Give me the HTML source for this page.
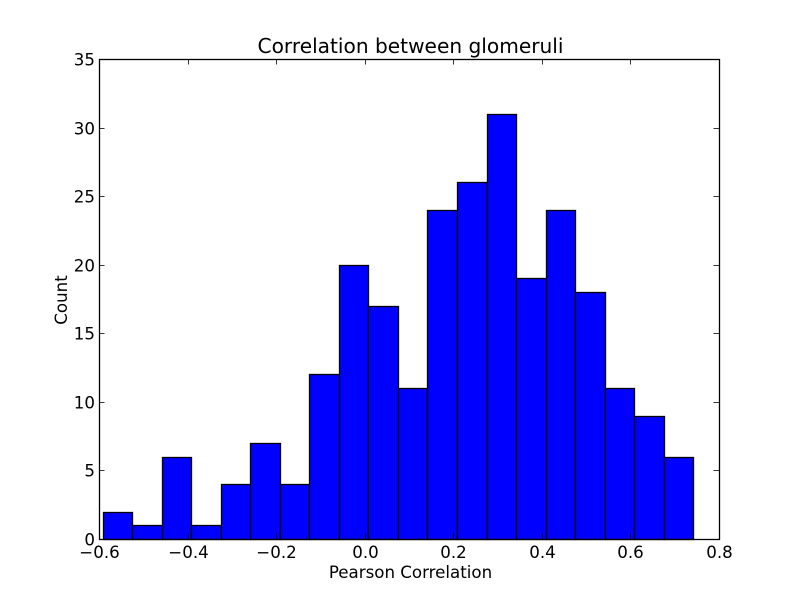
<!DOCTYPE html>
<html>
<head>
<meta charset="utf-8">
<title>Correlation between glomeruli</title>
<style>
html,body{margin:0;padding:0;background:#fff;}
svg{display:block;}
text{font-family:"DejaVu Sans","Liberation Sans",sans-serif;fill:#000;}
</style>
</head>
<body>
<svg id="chart" width="800" height="600" viewBox="0 0 800 600" xmlns="http://www.w3.org/2000/svg">
  <rect x="0" y="0" width="800" height="600" fill="#fff"/>
  <g id="bars"></g>
  <g id="ticks"></g>
  <rect x="99.5" y="59.5" width="620" height="480" fill="none" stroke="#000" stroke-width="1.3"/>
  <g id="labels"></g>
  <text x="410.5" y="53" font-size="20.15" text-anchor="middle">Correlation between glomeruli</text>
  <text x="410.5" y="578" font-size="16.67" text-anchor="middle">Pearson Correlation</text>
  <text x="0" y="0" font-size="16.67" text-anchor="middle" transform="translate(67 300) rotate(-90)">Count</text>
</svg>
<script>
const binStart = -0.59266;
const binWidth = 0.06666;
const counts = [2,1,6,1,4,7,4,12,20,17,11,24,26,31,19,24,18,11,9,6];
const xTicks = [-0.6,-0.4,-0.2,0,0.2,0.4,0.6,0.8];
const xTickLabels = ['\u22120.6','\u22120.4','\u22120.2','0.0','0.2','0.4','0.6','0.8'];
const yTicks = [0,5,10,15,20,25,30,35];
const yTickLabels = ['0','5','10','15','20','25','30','35'];
const xMin = -0.6, xMax = 0.8, yMin = 0, yMax = 35;
const plotLeft = 100, plotRight = 720, plotTop = 60, plotBottom = 540;
const NS = 'http://www.w3.org/2000/svg';
function xScale(v){ return plotLeft + (v - xMin) / (xMax - xMin) * (plotRight - plotLeft); }
function yScale(v){ return plotBottom - (v - yMin) / (yMax - yMin) * (plotBottom - plotTop); }
function snapBarX(x){ return Math.floor(x) + 0.5; }
function snapTick(p){ return Math.round(p - 1) + 0.5; }
const barsGroup = document.getElementById('bars');
const ticksGroup = document.getElementById('ticks');
const labelsGroup = document.getElementById('labels');
counts.forEach(function(c, i){
  const x0 = snapBarX(xScale(binStart + i * binWidth));
  const x1 = snapBarX(xScale(binStart + (i + 1) * binWidth));
  const y = snapTick(yScale(c));
  const y0 = snapTick(yScale(0));
  const r = document.createElementNS(NS, 'rect');
  
  
  r.setAttribute('x', x0);
  r.setAttribute('y', y);
  r.setAttribute('width', x1 - x0);
  r.setAttribute('height', y0 - y);
  r.setAttribute('fill', '#0000ff');
  r.setAttribute('stroke', '#000');
  r.setAttribute('stroke-width', '1.3');
  barsGroup.appendChild(r);
});
function tickLine(x1, y1, x2, y2){
  const l = document.createElementNS(NS, 'line');
  
  
  l.setAttribute('x1', x1);
  l.setAttribute('y1', y1);
  l.setAttribute('x2', x2);
  l.setAttribute('y2', y2);
  l.setAttribute('stroke', '#000');
  l.setAttribute('stroke-width', '0.8');
  ticksGroup.appendChild(l);
}
xTicks.forEach(function(v, i){
  const x = snapTick(xScale(v));
  tickLine(x, plotBottom - 1, x, plotBottom - 6.5);
  tickLine(x, plotTop - 1, x, plotTop + 4.5);
  const t = document.createElementNS(NS, 'text');
  
  
  t.setAttribute('x', x);
  t.setAttribute('y', 558);
  t.setAttribute('font-size', '16.67');
  t.setAttribute('text-anchor', 'middle');
  t.textContent = xTickLabels[i];
  labelsGroup.appendChild(t);
});
yTicks.forEach(function(v, i){
  const y = snapTick(yScale(v));
  tickLine(plotLeft - 1, y, plotLeft + 4.5, y);
  tickLine(plotRight - 1, y, plotRight - 6.5, y);
  const t = document.createElementNS(NS, 'text');
  
  
  t.setAttribute('x', 95);
  t.setAttribute('y', y + 6);
  t.setAttribute('font-size', '16.67');
  t.setAttribute('text-anchor', 'end');
  t.textContent = yTickLabels[i];
  labelsGroup.appendChild(t);
});
</script>
</body>
</html>
